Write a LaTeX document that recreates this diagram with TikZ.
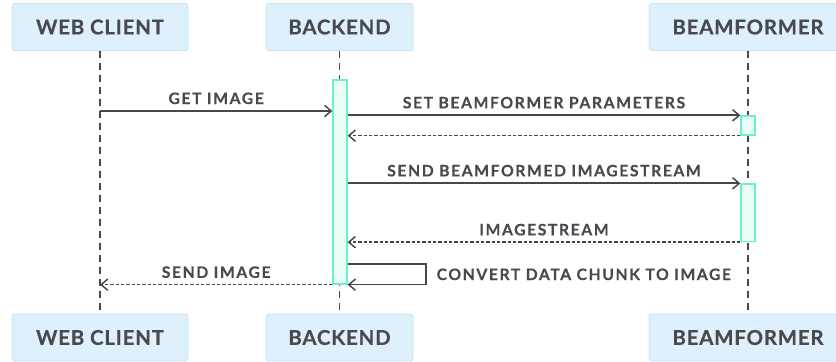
\documentclass[tikz,border=0pt]{standalone}
\usepackage{fontspec}
\newfontfamily\actorfont{Lato}[LetterSpace=4, BoldFeatures={FakeBold=0.4}]
\newfontfamily\msgfont{Lato}[LetterSpace=10, BoldFeatures={FakeBold=0.4}]
\usetikzlibrary{arrows.meta,calc}
\definecolor{ink}{HTML}{4A494F}
\definecolor{boxfill}{HTML}{DFF0FD}
\definecolor{boxline}{HTML}{C8E3F6}
\definecolor{barfill}{HTML}{E9FCF6}
\definecolor{barline}{HTML}{6CF0CF}
\definecolor{wire}{HTML}{47464B}
\begin{document}
\begin{tikzpicture}[x=0.75pt,y=-0.75pt]
    \tikzset{
        actor/.style={draw=boxline, fill=boxfill, line width=0.6pt, rounded corners=2pt,
            minimum height=35.25pt, text=ink, font=\actorfont\bfseries\fontsize{15.3}{18}\selectfont},
        bar/.style={draw=barline, fill=barfill, line width=1pt, minimum width=10.5pt, inner sep=0pt},
        lifeline/.style={draw=wire, line width=1.2pt, dash pattern=on 5.5pt off 3.5pt},
        msg/.style={draw=wire, line width=1.3pt, -{Straight Barb[length=5pt,width=8.5pt,line width=1.1pt]}},
        reply/.style={msg, line width=1pt, dash pattern=on 2.4pt off 1.6pt},
        lbl/.style={text=ink, inner sep=4.5pt, font=\msgfont\bfseries\fontsize{11.8}{13}\selectfont},
    }
    \useasboundingbox (0,0) rectangle (836,361);
    % actors, top and bottom
    \node[actor, minimum width=132pt] (client) at (100,27) {WEB CLIENT};
    \node[actor, minimum width=110.25pt] (backend) at (339.5,27) {BACKEND};
    \node[actor, minimum width=148.5pt] (beam) at (748,27) {BEAMFORMER};
    \node[actor, minimum width=132pt] (client-b) at (100,337.5) {WEB CLIENT};
    \node[actor, minimum width=110.25pt] (backend-b) at (339.5,337.5) {BACKEND};
    \node[actor, minimum width=148.5pt] (beam-b) at (748,337.5) {BEAMFORMER};
    \foreach \a in {client,backend,beam}
        \draw[lifeline] (\a.south) -- (\a-b.north);
    % activation bars
    \node[bar, minimum height=153pt] (bkbar) at (340,182) {};
    \node[bar, minimum height=14.25pt] (bfbar1) at (748,125.5) {};
    \node[bar, minimum height=43.1pt] (bfbar2) at (748,212.75) {};
    % messages
    \coordinate (get) at (100,111);
    \draw[msg] (get) -- (get -| bkbar.west) node[lbl, midway, above] {GET IMAGE};
    \draw[msg] (bkbar.east |- bfbar1.north) -- (bfbar1.north west)
        node[lbl, midway, above] {SET BEAMFORMER PARAMETERS};
    \draw[reply] (bfbar1.south west) -- (bfbar1.south west -| bkbar.east);
    \draw[msg] (bkbar.east |- bfbar2.north) -- (bfbar2.north west)
        node[lbl, midway, above] {SEND BEAMFORMED IMAGESTREAM};
    \draw[reply] (bfbar2.south west) -- (bfbar2.south west -| bkbar.east)
        node[lbl, midway, above] {IMAGESTREAM};
    \coordinate (loop) at (426,264);
    \draw[msg, line width=1pt] (bkbar.east |- loop) -- (loop) -- (loop |- bkbar.south)
        node[lbl, midway, right=3pt] {CONVERT DATA CHUNK TO IMAGE} -- (bkbar.south east);
    \draw[reply] (bkbar.south west) -- (bkbar.south west -| client.south)
        node[lbl, midway, above] {SEND IMAGE};
\end{tikzpicture}
\end{document}
